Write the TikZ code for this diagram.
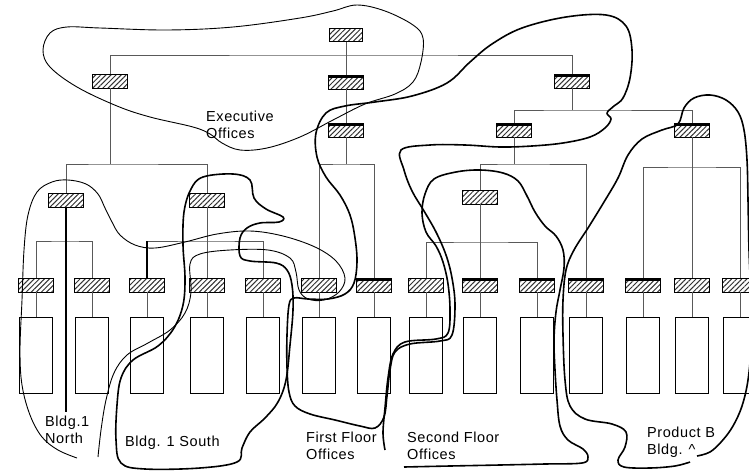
\documentclass[tikz,border=0pt]{standalone}
\usepackage{fontspec}
\setmainfont{Liberation Sans}[LetterSpace=4]
\usetikzlibrary{patterns.meta}

\tikzset{
    kasten/.style={draw, line width=0.7pt, minimum width=35pt, minimum height=14pt, inner sep=0pt,
        pattern={Lines[angle=45, distance=3.6pt, line width=1pt]}, pattern color=black!80},
    dunkel/.style={kasten, path picture={\draw[line width=5pt] (path picture bounding box.north west) -- (path picture bounding box.north east);}},
    zimmer/.style={draw, line width=0.7pt, minimum width=33pt, minimum height=76pt, inner sep=0pt},
    linie/.style={draw=black!65, line width=0.6pt},
    grenze/.style={line width=1.6pt, line join=round},
    duenn/.style={line width=0.9pt, line join=round},
    schrift/.style={align=left, inner sep=0pt, anchor=north west, font=\fontsize{14.5}{16.5}\selectfont}
}

\begin{document}
\begin{tikzpicture}[x=1pt, y=-1pt]
    \useasboundingbox (0,0) rectangle (749,471);
    % Leitung
    \path node[kasten, minimum width=33pt, minimum height=13pt] (T) at (346,35) {}
        node[kasten] (L1) at (110,81) {}
        node[dunkel] (M1) at (346,82) {}
        node[dunkel] (R1) at (572,81) {}
        node[dunkel] (M2) at (346,130) {}
        node[dunkel] (R2a) at (514,130) {}
        node[dunkel] (R2b) at (692,130) {}
        node[kasten] (L2a) at (66,200) {}
        node[kasten] (L2b) at (207,200) {}
        node[kasten] (R3) at (480,197) {};
    % Gruppen
    \path node[kasten] (b1) at (36,285) {}
        node[kasten] (b2) at (92,285) {}
        node[kasten] (b3) at (147,285) {}
        node[kasten] (b4) at (207,285) {}
        node[kasten] (b5) at (263,285) {}
        node[kasten] (b6) at (319,285) {}
        node[dunkel] (b7) at (374,285) {}
        node[kasten] (b8) at (426,285) {}
        node[dunkel] (b9) at (480,285) {}
        node[dunkel] (b10) at (537,285) {}
        node[dunkel] (b11) at (586,285) {}
        node[dunkel] (b12) at (643,285) {}
        node[kasten] (b13) at (692,285) {}
        node[kasten] (b14) at (740,285) {};
    \path node[zimmer] (r1) at (36,355) {}
        node[zimmer] (r2) at (92,355) {}
        node[zimmer] (r3) at (147,355) {}
        node[zimmer] (r4) at (207,355) {}
        node[zimmer] (r5) at (263,355) {}
        node[zimmer] (r6) at (319,355) {}
        node[zimmer] (r7) at (374,355) {}
        node[zimmer] (r8) at (426,355) {}
        node[zimmer] (r9) at (480,355) {}
        node[zimmer] (r10) at (537,355) {}
        node[zimmer] (r11) at (586,355) {}
        node[zimmer] (r12) at (643,355) {}
        node[zimmer] (r13) at (692,355) {}
        node[zimmer] (r14) at (740,355) {};
    \coordinate (jT) at (346,55);
    \coordinate (jR1) at (572,110);
    \coordinate (jL1) at (110,164);
    \coordinate (jM2) at (346,164);
    \coordinate (jR2a) at (514,164);
    \coordinate (jR2b) at (692,167);
    \coordinate (jL2a) at (66,241);
    \coordinate (jL2b) at (207,241);
    \coordinate (jR3) at (480,242);
    \coordinate (nEnde) at (66,412);
    \draw[linie] (L1) |- (jT) -| (R1);
    \draw[linie] (T) -- (M1);
    \draw[linie] (M1) -- (M2);
    \draw[linie] (R1) -- (jR1);
    \draw[linie] (R2a) |- (jR1) -| (R2b);
    \draw[linie] (L1) -- (jL1);
    \draw[linie] (L2a) |- (jL1) -| (L2b);
    \draw[linie] (M2) -- (jM2);
    \draw[linie] (b6) |- (jM2) -| (b7);
    \draw[linie] (R2a) -- (jR2a);
    \draw[linie] (R3) |- (jR2a) -| (b11);
    \draw[linie] (R3) -- (b9);
    \draw[linie] (b8) |- (jR3) -| (b10);
    \draw[linie] (R2b) -- (b13);
    \draw[linie] (b12) |- (jR2b) -| (b14);
    \draw[linie] (b1) |- (jL2a) -| (b2);
    \draw[linie] (L2b) -- (b4);
    \draw[linie] (b3) |- (jL2b) -| (b5);
    \draw[line width=1.3pt] (b3) -- (b3 |- jL2b);
    \draw[line width=1.2pt] (L2a) -- (nEnde);
    \draw[linie] (b1) -- (r1) (b2) -- (r2) (b3) -- (r3) (b4) -- (r4) (b5) -- (r5)
        (b6) -- (r6) (b7) -- (r7) (b8) -- (r8) (b9) -- (r9) (b10) -- (r10)
        (b11) -- (r11) (b12) -- (r12) (b13) -- (r13) (b14) -- (r14);

    % Bereiche
    \draw[duenn] plot[smooth cycle, tension=0.6] coordinates {(357,5) (333,11) (300,18) (233,27) (167,30) (100,28) (67,27) (50,33) (43,50) (50,67) (77,87) (117,106) (150,117) (193,127) (210,134) (222,143) (240,150) (267,148) (300,137) (333,120) (365,104) (395,94) (413,82) (421,62) (423,38) (413,25) (385,11)};
    \draw[duenn] plot[smooth, tension=0.6] coordinates {(77,458) (58,450) (42,437) (30,415) (22,385) (20,350) (22,300) (24,250) (28,215) (37,192) (52,182) (68,180) (86,184) (98,194) (105,208) (112,222) (120,235) (135,245) (155,248) (185,242) (217,234) (250,231) (283,236) (315,247) (336,261) (345,278) (339,292) (324,300) (308,299) (299,290) (296,272) (290,258) (268,250) (230,250) (200,254) (190,264) (191,292) (185,313) (170,330) (148,343) (127,355) (114,373) (106,400) (101,430) (98,457)};
    \draw[grenze] plot[smooth cycle, tension=0.6] coordinates {(203,177) (233,174) (250,180) (254,198) (266,209) (283,217) (279,222) (260,223) (247,228) (240,238) (240,256) (250,261) (276,263) (287,270) (292,285) (293,310) (290,345) (286,380) (278,402) (265,418) (250,432) (242,448) (237,462) (200,468) (145,469) (121,463) (116,440) (117,405) (121,378) (133,360) (158,346) (174,328) (183,305) (185,278) (183,245) (184,212) (191,189)};
    \draw[grenze] plot[smooth cycle, tension=0.6] coordinates {(289,305) (287,335) (287,367) (289,392) (295,406) (310,414) (335,420) (360,426) (375,428) (384,417) (387,396) (390,370) (395,352) (410,344) (440,341) (452,335) (455,305) (452,278) (446,255) (436,232) (424,211) (412,191) (404,170) (401,150) (430,145) (465,145) (500,147) (532,146) (563,143) (590,137) (605,128) (611,119) (607,113) (614,106) (623,98) (630,78) (632,50) (626,26) (606,15) (566,17) (522,28) (492,44) (470,62) (447,83) (412,96) (375,102) (345,106) (326,113) (316,133) (317,157) (326,177) (340,195) (350,215) (355,238) (357,262) (354,283) (345,294) (328,299) (308,299) (294,298)};
    \draw[grenze] plot[smooth, tension=0.6] coordinates {(404,467) (450,466) (500,465) (545,464) (582,463) (588,457) (583,449) (568,440) (560,426) (557,400) (555,370) (554,340) (556,312) (560,290) (564,268) (563,250) (556,236) (545,226) (535,212) (527,196) (518,181) (503,173) (480,170) (456,172) (434,179) (425,194) (422,213) (426,232) (436,246) (443,262) (448,284) (450,310) (448,333) (436,339) (405,342) (393,354) (388,378) (385,408) (383,433) (385,450)};
    \draw[grenze] plot[smooth, tension=0.6] coordinates {(697,456) (710,452) (722,441) (733,426) (742,406) (748,380) (751,345) (751,300) (749,250) (748,200) (747,160) (744,130) (738,112) (726,100) (710,95) (694,98) (684,108) (678,124) (662,130) (642,139) (628,155) (618,178) (604,202) (588,228) (574,250) (566,270) (563,300) (563,335) (565,380) (570,406) (585,419) (612,424) (626,432) (625,447) (618,460) (624,467) (650,468) (675,466) (690,462)};

    % Beschriftung
    \node[schrift] (exec) at (206,111) {Executive\\Offices};
    \node[schrift] (nord) at (45,416) {Bldg.1\\North};
    \node[schrift] (sued) at (125,436) {Bldg. 1 South};
    \node[schrift] (erster) at (306,432) {First Floor\\Offices};
    \node[schrift] (zweiter) at (407,432) {Second Floor\\Offices};
    \node[schrift] (prodb) at (647,427) {Product B\\Bldg. \textasciicircum};
\end{tikzpicture}
\end{document}
